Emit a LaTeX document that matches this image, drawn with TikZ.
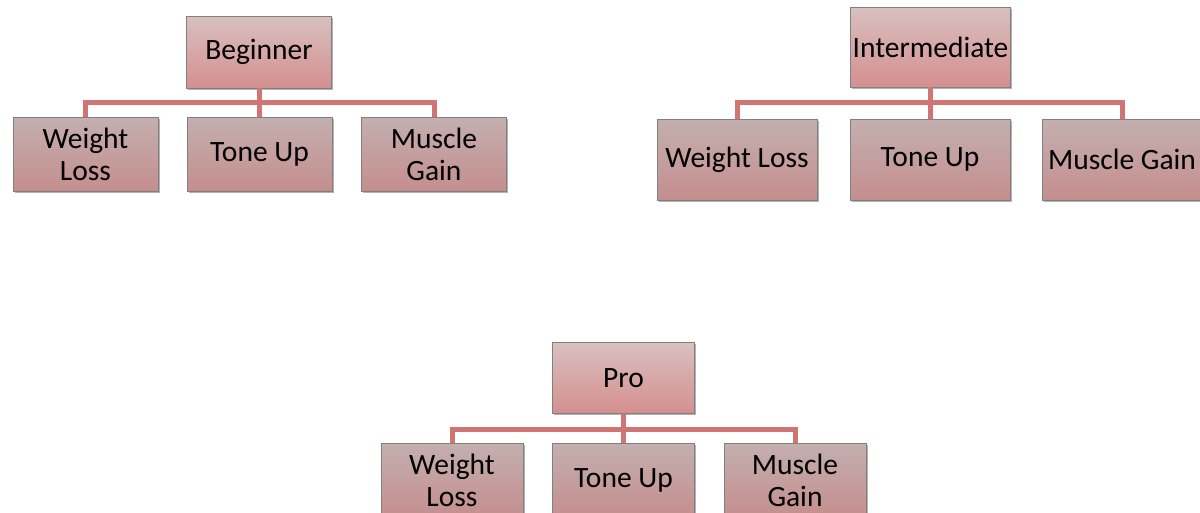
\documentclass[tikz,border=0pt]{standalone}
\usepackage{fontspec}
\setmainfont{Carlito}
\usetikzlibrary{shadows}
\definecolor{toptop}{RGB}{216,192,192}
\definecolor{topbot}{RGB}{213,143,143}
\definecolor{subtop}{RGB}{196,175,175}
\definecolor{subbot}{RGB}{197,142,142}
\definecolor{linkred}{RGB}{208,116,116}
\definecolor{edgegray}{RGB}{128,128,128}
\tikzset{
  box/.style={draw=edgegray, line width=0.7pt, inner sep=2pt, align=center,
    font=\fontsize{29.5}{32}\selectfont,
    drop shadow={shadow xshift=1.5pt, shadow yshift=-1.5pt, opacity=0.3, fill=black}},
  lead/.style={box, top color=toptop, bottom color=topbot},
  sub/.style={box, top color=subtop, bottom color=subbot},
  conn/.style={draw=linkred, line width=5pt},
}
\begin{document}
\begin{tikzpicture}[x=1pt, y=-1pt]
\useasboundingbox (0,0) rectangle (1200,512);
\fill[white] (0,0) rectangle (1200,512);

% Beginner tree
\node[lead, minimum width=145pt, minimum height=72pt] (b) at (259,52) {Beginner};
\node[sub, minimum width=145pt, minimum height=74pt] (b1) at (85.5,154) {Weight\\Loss};
\node[sub, minimum width=145pt, minimum height=74pt] (b2) at (259.5,154) {Tone Up};
\node[sub, minimum width=145pt, minimum height=74pt] (b3) at (434,154) {Muscle\\Gain};
\foreach \c in {b1,b2,b3}
  \draw[conn] (b.south) -- ++(0,14) -| (\c.north);

% Intermediate tree
\node[lead, minimum width=159pt, minimum height=80pt] (m) at (930.5,47) {Intermediate};
\node[sub, minimum width=160pt, minimum height=81pt] (m1) at (737,159.5) {Weight Loss};
\node[sub, minimum width=160pt, minimum height=81pt] (m2) at (930,159.5) {Tone Up};
\node[sub, minimum width=160pt, minimum height=81pt] (m3) at (1122,159.5) {Muscle Gain};
\foreach \c in {m1,m2,m3}
  \draw[conn] (m.south) -- ++(0,15) -| (\c.north);

% Pro tree
\node[lead, minimum width=142pt, minimum height=71pt] (p) at (623.5,378) {Pro};
\node[sub, minimum width=142pt, minimum height=74pt] (p1) at (452,480) {Weight\\Loss};
\node[sub, minimum width=142pt, minimum height=74pt] (p2) at (623.5,480) {Tone Up};
\node[sub, minimum width=142pt, minimum height=74pt] (p3) at (795,480) {Muscle\\Gain};
\foreach \c in {p1,p2,p3}
  \draw[conn] (p.south) -- ++(0,16) -| (\c.north);
\end{tikzpicture}
\end{document}
